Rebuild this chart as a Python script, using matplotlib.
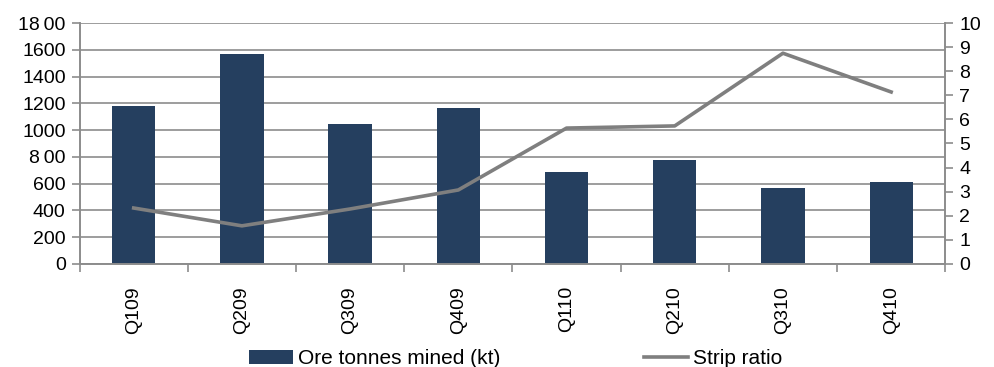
import matplotlib.pyplot as plt
import numpy as np

plt.rcParams['font.family'] = ['Liberation Sans', 'DejaVu Sans']

quarters = ['Q109', 'Q209', 'Q309', 'Q409', 'Q110', 'Q210', 'Q310', 'Q410']
ore_mined = [1180, 1568, 1046, 1165, 687, 777, 568, 612]
strip_ratio = [2.32, 1.58, 2.28, 3.07, 5.64, 5.73, 8.75, 7.14]
left_labels = ['0', '200', '400', '600', '8\u200900', '1000', '1200', '1400', '1600', '18\u200900']


def main():
    fig = plt.figure(figsize=(9.95, 3.67), dpi=100)
    ax = fig.add_axes([0.080, 0.281, 0.870, 0.656])
    ax2 = ax.twinx()

    x = np.arange(len(quarters))
    grid_col = '#8c8c8c'

    ax.set_axisbelow(True)
    ax.yaxis.grid(True, color=grid_col, lw=1.2)
    bars = ax.bar(x, ore_mined, width=0.4, color='#253f5f', label='Ore tonnes mined (kt)')
    line, = ax2.plot(x, strip_ratio, color='#7f7f7f', lw=2.6, label='Strip ratio')

    ax.set_xlim(-0.5, len(quarters) - 0.5)
    ax.set_ylim(0, 1800)
    ax.set_yticks(range(0, 1801, 200))
    ax.set_yticklabels(left_labels)
    ax2.set_ylim(0, 10)
    ax2.set_yticks(range(0, 11))

    # category labels between boundary ticks
    ax.set_xticks(x)
    ax.set_xticklabels(quarters, rotation=90, fontsize=14)
    ax.tick_params(axis='x', length=0, pad=16)
    ax.set_xticks(np.arange(-0.5, len(quarters)), minor=True)
    ax.tick_params(axis='x', which='minor', length=6, width=1.2, color=grid_col)

    for a in (ax, ax2):
        for s in a.spines.values():
            s.set_color(grid_col)
            s.set_linewidth(1.2)
        a.spines['top'].set_visible(False)
    ax.tick_params(axis='y', labelsize=14, length=6, width=1.2, color=grid_col, pad=4)
    ax2.tick_params(axis='y', labelsize=14, length=6, width=1.2, color=grid_col, pad=4)

    fig.legend([bars, line], ['Ore tonnes mined (kt)', 'Strip ratio'],
               loc='lower center', bbox_to_anchor=(0.518, -0.055), ncol=2,
               frameon=False, fontsize=15, columnspacing=6.9,
               handlelength=2.1, handletextpad=0.25)

    fig.savefig('out.png', dpi=100)


if __name__ == '__main__':
    main()
